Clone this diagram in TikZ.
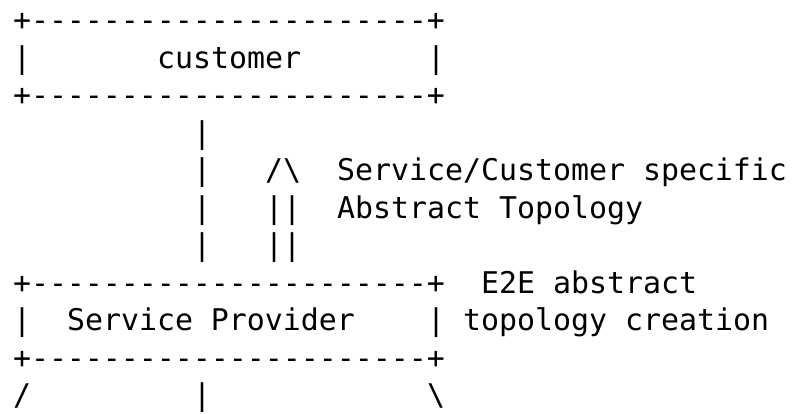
\documentclass[tikz,border=0pt]{standalone}
\usepackage{fontspec}
\newfontfamily\asciifont[Ligatures=TeXOff]{DejaVu Sans Mono}
\begin{document}
\begin{tikzpicture}[x=1pt,y=1pt,
  asc/.style={anchor=base west, inner sep=0pt, outer sep=0pt,
    font=\asciifont\fontsize{29.9}{36}\selectfont}]
\useasboundingbox (0,0) rectangle (795,414);
% line 1
\node[asc] (top1) at (13,383) {+----------------------+};
% line 2
\node[asc] (l2a) at (13,345.5) {|};
\node[asc] (cust) at (157,345.5) {customer};
\node[asc] (l2c) at (427,345.5) {|};
% line 3
\node[asc] (top3) at (13,308) {+----------------------+};
% line 4
\node[asc] (v4) at (193,270.5) {|};
% line 5
\node[asc] (v5) at (193,233) {|};
\node[asc] (ar5) at (265,233) {/\textbackslash};
\node[asc] (t5) at (337,233) {Service/Customer specific};
% line 6
\node[asc] (v6) at (193,195.5) {|};
\node[asc] (ar6) at (265,195.5) {||};
\node[asc] (t6) at (337,195.5) {Abstract Topology};
% line 7
\node[asc] (v7) at (193,158) {|};
\node[asc] (ar7) at (265,158) {||};
% line 8
\node[asc] (sp8) at (13,120.5) {+----------------------+};
\node[asc] (t8) at (481,120.5) {E2E abstract};
% line 9
\node[asc] (l9a) at (13,83) {|};
\node[asc] (sp) at (67,83) {Service Provider};
\node[asc] (l9c) at (427,83) {|};
\node[asc] (t9) at (463,83) {topology creation};
% line 10
\node[asc] (sp10) at (13,45.5) {+----------------------+};
% line 11
\node[asc] (s11a) at (13,8) {/};
\node[asc] (s11b) at (193,8) {|};
\node[asc] (s11c) at (427,8) {\textbackslash};
\end{tikzpicture}
\end{document}
